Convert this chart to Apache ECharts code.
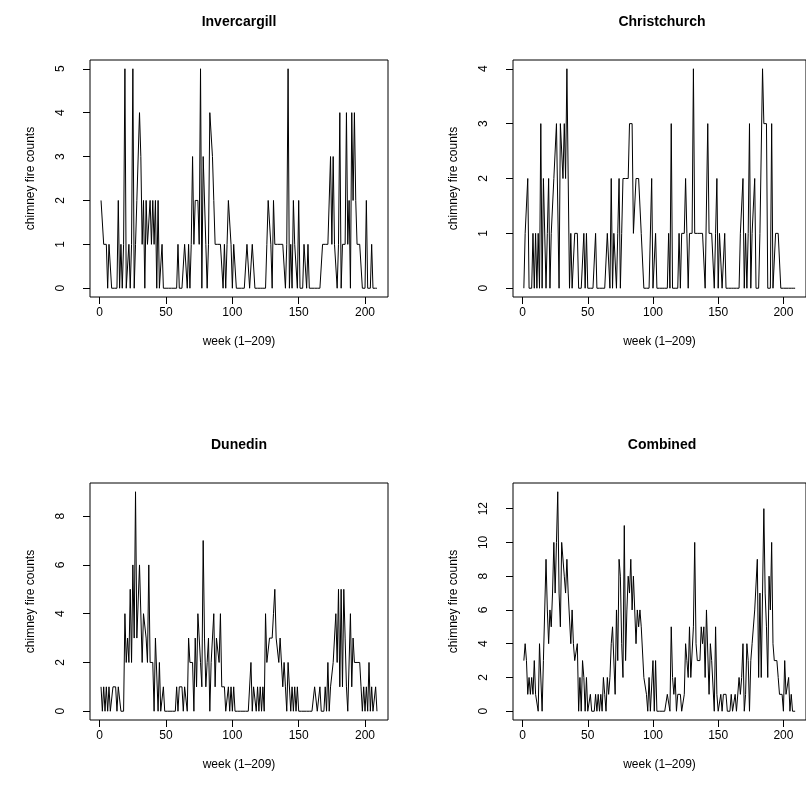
<!DOCTYPE html>
<html>
<head>
<meta charset="utf-8">
<script src="https://cdn.jsdelivr.net/npm/echarts@6/dist/echarts.min.js"></script>
<style>
  html, body { margin: 0; padding: 0; background: #ffffff; }
  #chart { width: 806px; height: 803px; }
</style>
</head>
<body>
<div id="chart"></div>
<script>
// Weekly chimney fire counts, weeks 1-209, one array per region.
const invercargill = [
  2,2,1,1,1,0,1,1,0,0,
  0,0,0,2,0,1,0,1,5,0,
  0,1,0,1,5,0,1,2,2,4,
  3,1,2,0,2,1,1,2,1,2,
  1,2,0,2,0,0,1,0,0,0,
  0,0,0,0,0,0,0,0,1,0,
  0,0,0,1,1,0,1,0,1,3,
  1,2,2,2,1,5,0,3,3,1,
  0,1,4,4,3,2,1,1,1,1,
  1,1,0,1,0,1,2,2,1,0,
  1,1,0,0,0,0,0,0,0,0,
  1,1,0,0,1,1,0,0,0,0,
  0,0,0,0,0,1,2,2,1,0,
  2,1,1,1,1,1,1,1,1,0,
  1,5,0,1,0,2,1,1,0,2,
  0,0,0,1,1,0,1,0,0,0,
  0,0,0,0,0,0,0,1,1,1,
  1,1,1,3,1,3,1,1,0,1,
  4,0,1,1,1,4,1,2,0,4,
  2,4,2,1,1,1,1,0,0,0,
  2,0,0,0,1,0,0,0,0
];

const christchurch = [
  0,1,1,2,0,0,0,1,0,1,
  0,1,0,3,0,2,2,0,1,2,
  0,1,1,2,2,3,3,0,3,3,
  2,3,2,4,4,0,1,0,0,1,
  1,1,0,0,0,0,1,0,1,0,
  0,0,0,0,0,1,0,0,0,0,
  0,0,0,0,1,1,0,2,0,1,
  1,0,1,2,0,1,2,2,2,2,
  2,3,3,3,1,1,2,2,2,2,
  1,1,0,0,0,0,0,0,2,0,
  0,1,0,0,0,0,0,0,0,0,
  0,1,0,3,0,0,0,0,0,1,
  0,1,1,1,2,1,0,1,1,1,
  4,1,1,1,1,1,1,1,1,0,
  0,3,1,1,1,1,0,1,2,0,
  1,1,0,0,1,0,0,0,0,0,
  0,0,0,0,0,0,1,1,2,0,
  1,0,1,3,0,1,1,2,0,0,
  0,1,1,4,3,3,3,0,0,0,
  3,0,0,1,1,1,1,0,0,0,
  0,0,0,0,0,0,0,0,0
];

const dunedin = [
  1,0,1,0,1,0,1,0,0,1,
  1,1,0,1,1,0,0,0,4,2,
  3,2,5,2,6,3,9,3,3,6,
  6,2,4,4,3,2,6,2,2,2,
  0,3,3,0,2,0,0,1,0,0,
  0,0,0,0,0,0,0,1,0,1,
  1,1,0,1,1,0,3,2,2,2,
  0,3,1,4,4,2,1,7,3,1,
  2,3,0,2,2,4,1,3,3,2,
  4,1,1,1,0,0,1,0,1,0,
  1,0,0,0,0,0,0,0,0,0,
  0,0,0,2,0,1,1,0,1,0,
  1,0,1,0,4,2,2,3,3,3,
  4,5,3,3,2,3,3,1,2,1,
  0,2,2,0,1,0,1,0,1,0,
  0,0,0,0,0,0,0,0,0,0,
  0,1,1,0,0,1,0,0,0,1,
  0,2,0,1,1,2,2,4,2,5,
  1,5,1,5,3,1,0,0,4,1,
  3,2,2,2,2,2,1,0,1,0,
  1,0,2,0,1,0,0,1,0
];

const combined = [
  3,4,3,1,2,1,2,1,3,1,
  1,0,4,4,0,3,3,9,6,4,
  6,5,7,10,7,10,13,7,5,10,
  10,8,7,9,7,7,4,6,4,3,
  3,4,0,2,0,3,2,0,2,0,
  0,1,0,0,0,1,0,1,0,1,
  0,2,1,0,2,1,2,4,5,5,
  1,6,3,9,8,4,2,11,3,6,
  8,7,9,6,8,8,4,6,5,6,
  5,5,2,2,1,0,2,0,0,3,
  0,3,0,0,0,0,0,0,0,0,
  1,1,0,5,2,1,2,0,1,1,
  1,0,0,1,4,3,2,5,2,2,
  5,10,4,3,3,3,5,4,5,2,
  6,6,1,4,3,3,0,5,1,0,
  0,1,0,1,1,1,0,0,0,1,
  0,0,1,0,0,2,1,2,4,0,
  1,4,3,0,3,4,4,6,6,9,
  2,7,2,7,12,7,5,2,8,6,
  10,4,3,3,3,2,1,1,1,0,
  3,1,1,2,0,1,0,0,0
];

const panelTitles = ['Invercargill', 'Christchurch', 'Dunedin', 'Combined'];
const panelSeries = [invercargill, christchurch, dunedin, combined];
const xTicks = [0, 50, 100, 150, 200];
const yTicks = [
  [0, 1, 2, 3, 4, 5],
  [0, 1, 2, 3, 4],
  [0, 2, 4, 6, 8],
  [0, 2, 4, 6, 8, 10, 12]
];
const xTitle = 'week (1\u2013209)';
const yTitle = 'chimney fire counts';

const FONT = '"Liberation Sans", Arial, Helvetica, sans-serif';

// plot-box geometry for the 2x2 layout
const boxW = 298, boxH = 237;
const boxLeft = [90, 513, 90, 513];
const boxTop = [60, 60, 483, 483];

const firstWeek = 1, lastWeek = 209;
const span = lastWeek - firstWeek;
const xMin = firstWeek - 0.04 * span;
const xMax = lastWeek + 0.04 * span;

const grids = [], xAxes = [], yAxes = [], series = [], graphics = [];

panelSeries.forEach((vals, i) => {
  const yMaxData = Math.max(...vals);
  const yPad = 0.04 * yMaxData;
  grids.push({
    left: boxLeft[i], top: boxTop[i], width: boxW, height: boxH,
    show: true, borderColor: '#000', borderWidth: 1, backgroundColor: 'transparent'
  });
  xAxes.push({
    type: 'value', gridIndex: i, min: xMin, max: xMax, position: 'bottom',
    axisLine: { show: false, onZero: false },
    splitLine: { show: false },
    axisTick: { show: true, inside: false, length: 7, customValues: xTicks,
                lineStyle: { color: '#000', width: 1 } },
    axisLabel: { show: true, customValues: xTicks, margin: 10, color: '#000',
                 fontSize: 12, fontFamily: FONT },
    name: xTitle, nameLocation: 'middle', nameGap: 39,
    nameTextStyle: { color: '#000', fontSize: 12, fontFamily: FONT }
  });
  yAxes.push({
    type: 'value', gridIndex: i, min: -yPad, max: yMaxData + yPad, position: 'left',
    axisLine: { show: false, onZero: false },
    splitLine: { show: false },
    axisTick: { show: true, inside: false, length: 7, customValues: yTicks[i],
                lineStyle: { color: '#000', width: 1 } },
    axisLabel: { show: true, customValues: yTicks[i], rotate: 90, margin: 23,
                 color: '#000', fontSize: 12, fontFamily: FONT },
    name: yTitle, nameLocation: 'middle', nameGap: 53,
    nameTextStyle: { color: '#000', fontSize: 12, fontFamily: FONT }
  });
  series.push({
    type: 'line', xAxisIndex: i, yAxisIndex: i,
    data: vals.map((v, k) => [firstWeek + k, v]),
    showSymbol: false, symbol: 'none',
    lineStyle: { color: '#000', width: 1 },
    animation: false, silent: true
  });
  graphics.push({
    type: 'text',
    x: boxLeft[i] + boxW / 2,
    y: boxTop[i] - 38,
    style: {
      text: panelTitles[i], fill: '#000',
      font: 'bold 14px ' + FONT,
      textAlign: 'center', textVerticalAlign: 'middle'
    }
  });
});

const chart = echarts.init(document.getElementById('chart'), null, { renderer: 'canvas' });
chart.setOption({
  animation: false,
  backgroundColor: '#ffffff',
  grid: grids,
  xAxis: xAxes,
  yAxis: yAxes,
  series: series,
  graphic: graphics
});
</script>
</body>
</html>
